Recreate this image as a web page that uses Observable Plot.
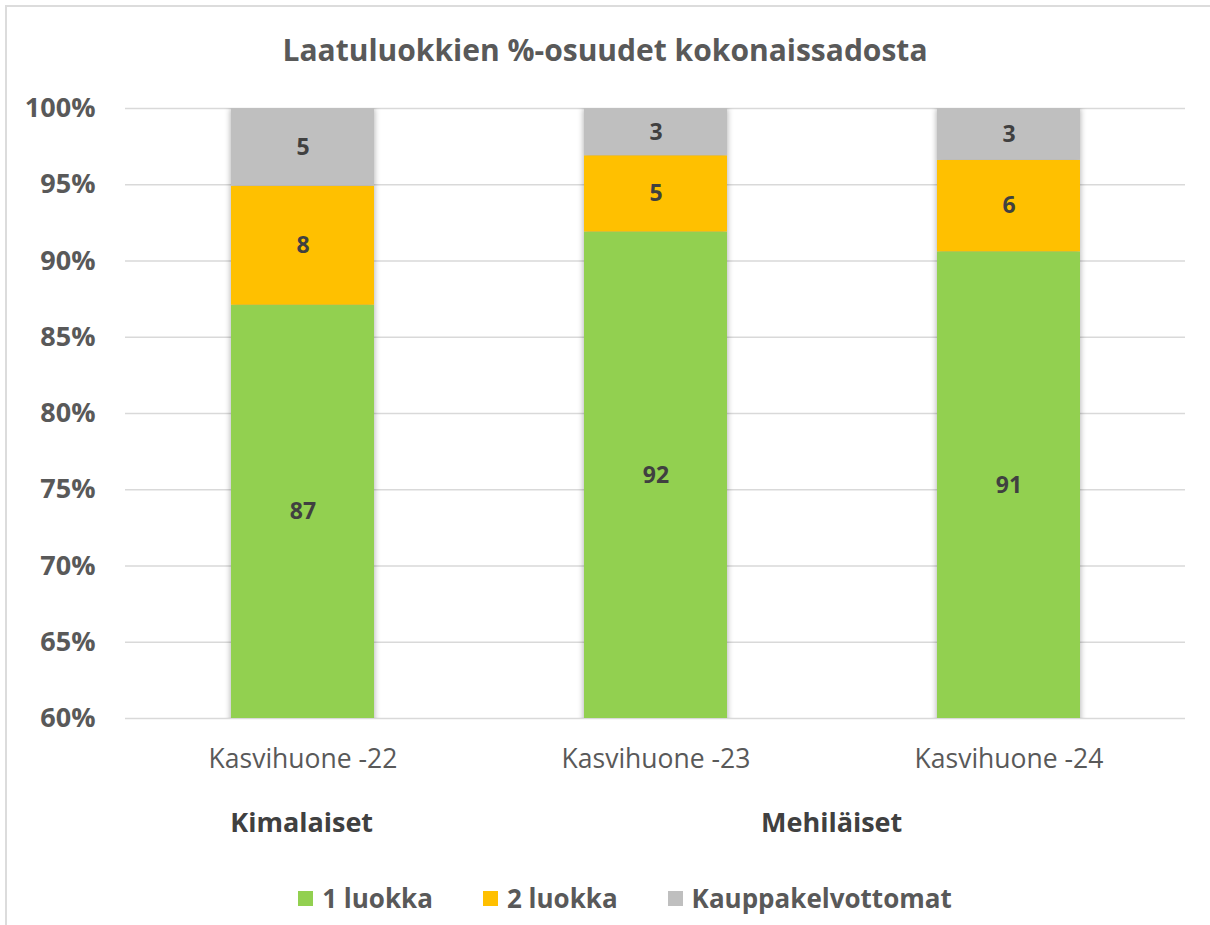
<!DOCTYPE html>
<html>
<head>
<meta charset="utf-8">
<script src="https://cdn.jsdelivr.net/npm/d3@7"></script>
<script src="https://cdn.jsdelivr.net/npm/@observablehq/plot@0.6"></script>
<style>
  html, body { margin: 0; padding: 0; background: #fff; }
  #wrap { position: relative; width: 1210px; height: 925px; overflow: hidden; font-family: "Open Sans", sans-serif; }
  #frame { position: absolute; left: 5px; top: 5px; width: 1300px; height: 1000px; border-left: 2px solid #dcdcdc; border-top: 2px solid #dcdcdc; }
  #title { position: absolute; left: 0; top: 30px; width: 1210px; text-align: center; font-weight: bold; font-size: 30px; color: #595959; line-height: 40px; }
  #chart { position: absolute; left: 0; top: 85px; }
  #groups { position: absolute; left: 125px; width: 1060px; top: 804px; display: grid; grid-template-columns: repeat(3, 1fr); font-weight: bold; font-size: 27px; line-height: 36px; color: #404040; text-align: center; }
  #legend { position: absolute; left: 20px; top: 880px; width: 1210px; display: flex; justify-content: center; gap: 50px; font-weight: bold; font-size: 26px; line-height: 36px; color: #595959; }
  #legend .item { display: flex; align-items: center; gap: 9px; }
  #legend .sw { width: 15px; height: 15px; display: inline-block; }
</style>
</head>
<body>
<div id="wrap">
  <div id="frame"></div>
  <div id="title"></div>
  <div id="chart"></div>
  <div id="groups"></div>
  <div id="legend"></div>
</div>
<script>
const title = "Laatuluokkien %-osuudet kokonaissadosta";
const categories = ["Kasvihuone -22", "Kasvihuone -23", "Kasvihuone -24"];
const series = ["1 luokka", "2 luokka", "Kauppakelvottomat"];
const colors = ["#92D050", "#FFC000", "#BFBFBF"];
const luokka1 = [87.1, 91.9, 90.6];
const luokka2 = [7.8, 5.0, 6.0];
const kauppakelvottomat = [5.1, 3.1, 3.4];
const groups = ["Kimalaiset", "Mehiläiset"];
const groupSpans = [1, 2];
const yTicks = [60, 65, 70, 75, 80, 85, 90, 95, 100];
const yDomain = [60, 100];

const seriesValues = [luokka1, luokka2, kauppakelvottomat];
const data = [];
const labels = [];
categories.forEach((c, i) => {
  let base = 0;
  series.forEach((s, j) => {
    const v = seriesValues[j][i];
    data.push({category: c, series: s, value: v});
    // label at the middle of the visible part of each segment
    const lo = Math.max(base, yDomain[0]);
    const hi = Math.min(base + v, yDomain[1]);
    labels.push({category: c, series: s, mid: (lo + hi) / 2, text: String(Math.round(v))});
    base += v;
  });
});

document.getElementById("title").textContent = title;

const plot = Plot.plot({
  width: 1210,
  height: 700,
  marginLeft: 125,
  marginRight: 25,
  marginTop: 23,
  marginBottom: 67,
  style: {fontFamily: "Open Sans, sans-serif", background: "transparent"},
  x: {domain: categories, paddingInner: 0.595, paddingOuter: 0.2975, label: null},
  y: {domain: yDomain, label: null},
  color: {domain: series, range: colors},
  marks: [
    Plot.ruleY(yTicks, {stroke: "#d9d9d9", strokeWidth: 1.5}),
    Plot.barY(data, Plot.stackY({x: "category", y: "value", fill: "series", order: series, clip: true})),
    Plot.text(labels, {x: "category", y: "mid", text: "text", fill: "#404040", fontWeight: "bold", fontSize: 23}),
    Plot.axisY({ticks: yTicks, tickFormat: d => d + "%", tickSize: 0, tickPadding: 30, fontSize: 27, fontWeight: "bold"}),
    Plot.axisX({tickSize: 0, tickPadding: 31, fontSize: 26.5})
  ]
});
document.getElementById("chart").appendChild(plot);

// soft shadow around bars
d3.select(plot).selectAll("g[aria-label='bar']").style("filter", "drop-shadow(0px 0px 3px rgba(0,0,0,0.35))");
d3.select(plot).selectAll("g[aria-label='y-axis tick label']").attr("fill", "#595959");
d3.select(plot).selectAll("g[aria-label='x-axis tick label']").attr("fill", "#595959");

const g = document.getElementById("groups");
groups.forEach((name, i) => {
  const el = document.createElement("div");
  el.textContent = name;
  el.style.gridColumn = "span " + groupSpans[i];
  g.appendChild(el);
});

const lg = document.getElementById("legend");
series.forEach((s, i) => {
  const it = document.createElement("div");
  it.className = "item";
  const sw = document.createElement("span");
  sw.className = "sw";
  sw.style.background = colors[i];
  const t = document.createElement("span");
  t.textContent = s;
  it.appendChild(sw);
  it.appendChild(t);
  lg.appendChild(it);
});
</script>
</body>
</html>
